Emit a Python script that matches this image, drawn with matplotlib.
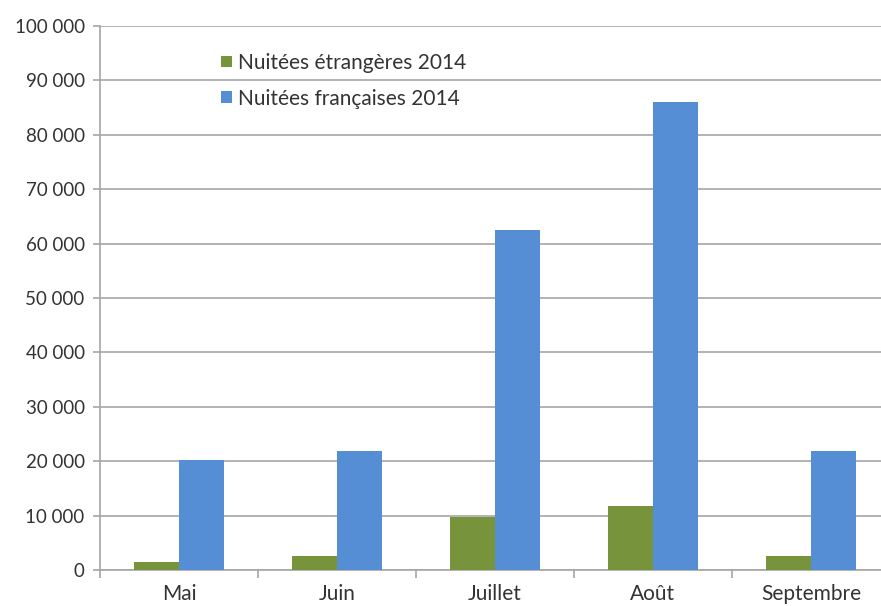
import numpy as np
import matplotlib.pyplot as plt
import matplotlib.ticker as mticker

# Data
months = ["Mai", "Juin", "Juillet", "Août", "Septembre"]
etrangeres = [1400, 2600, 9800, 11800, 2600]
francaises = [20300, 21900, 62500, 86000, 21900]
labels = ["Nuitées étrangères 2014", "Nuitées françaises 2014"]

GREEN = "#77933C"
BLUE = "#558ED5"
GRID = "#A6A6A6"
TEXT = "#333333"

plt.rcParams["font.family"] = ["Lato", "DejaVu Sans"]

fig = plt.figure(figsize=(8.81, 6.06), dpi=100)
# plot area runs slightly past the right edge, as in the source image
ax = fig.add_axes([100 / 881, 36 / 606, 790 / 881, 544 / 606])

x = np.arange(len(months))
w = 0.285
ax.bar(x - w / 2, etrangeres, w, color=GREEN, label=labels[0], zorder=3)
ax.bar(x + w / 2, francaises, w, color=BLUE, label=labels[1], zorder=3)

ax.set_xlim(-0.5, len(months) - 0.5)
ax.set_ylim(0, 100000)
ax.yaxis.set_major_locator(mticker.MultipleLocator(10000))
ax.yaxis.set_major_formatter(
    mticker.FuncFormatter(lambda v, _: f"{int(v):,}".replace(",", " ")))
ax.grid(axis="y", color=GRID, lw=1.2, zorder=0)

ax.set_xticks(x)
ax.set_xticklabels(months)
ax.set_xticks(np.arange(len(months) + 1) - 0.5, minor=True)
ax.tick_params(axis="x", which="major", length=0, pad=10, labelsize=15, colors=TEXT)
ax.tick_params(axis="x", which="minor", length=6, color=GRID, width=1.2)
ax.tick_params(axis="y", length=5, color=GRID, width=1.2, labelsize=13.5,
               colors=TEXT, pad=6)
ax.tick_params(axis="y", colors=GRID, labelcolor=TEXT)

for side in ("top", "right"):
    ax.spines[side].set_visible(False)
for side in ("left", "bottom"):
    ax.spines[side].set_color(GRID)
    ax.spines[side].set_linewidth(1.2)

ax.legend(loc="upper left", bbox_to_anchor=(0.13, 0.985), frameon=False,
          fontsize=15, handlelength=0.5, handleheight=0.5, handletextpad=0.3,
          labelspacing=0.75, labelcolor=TEXT)

fig.savefig("out.png", dpi=100)
